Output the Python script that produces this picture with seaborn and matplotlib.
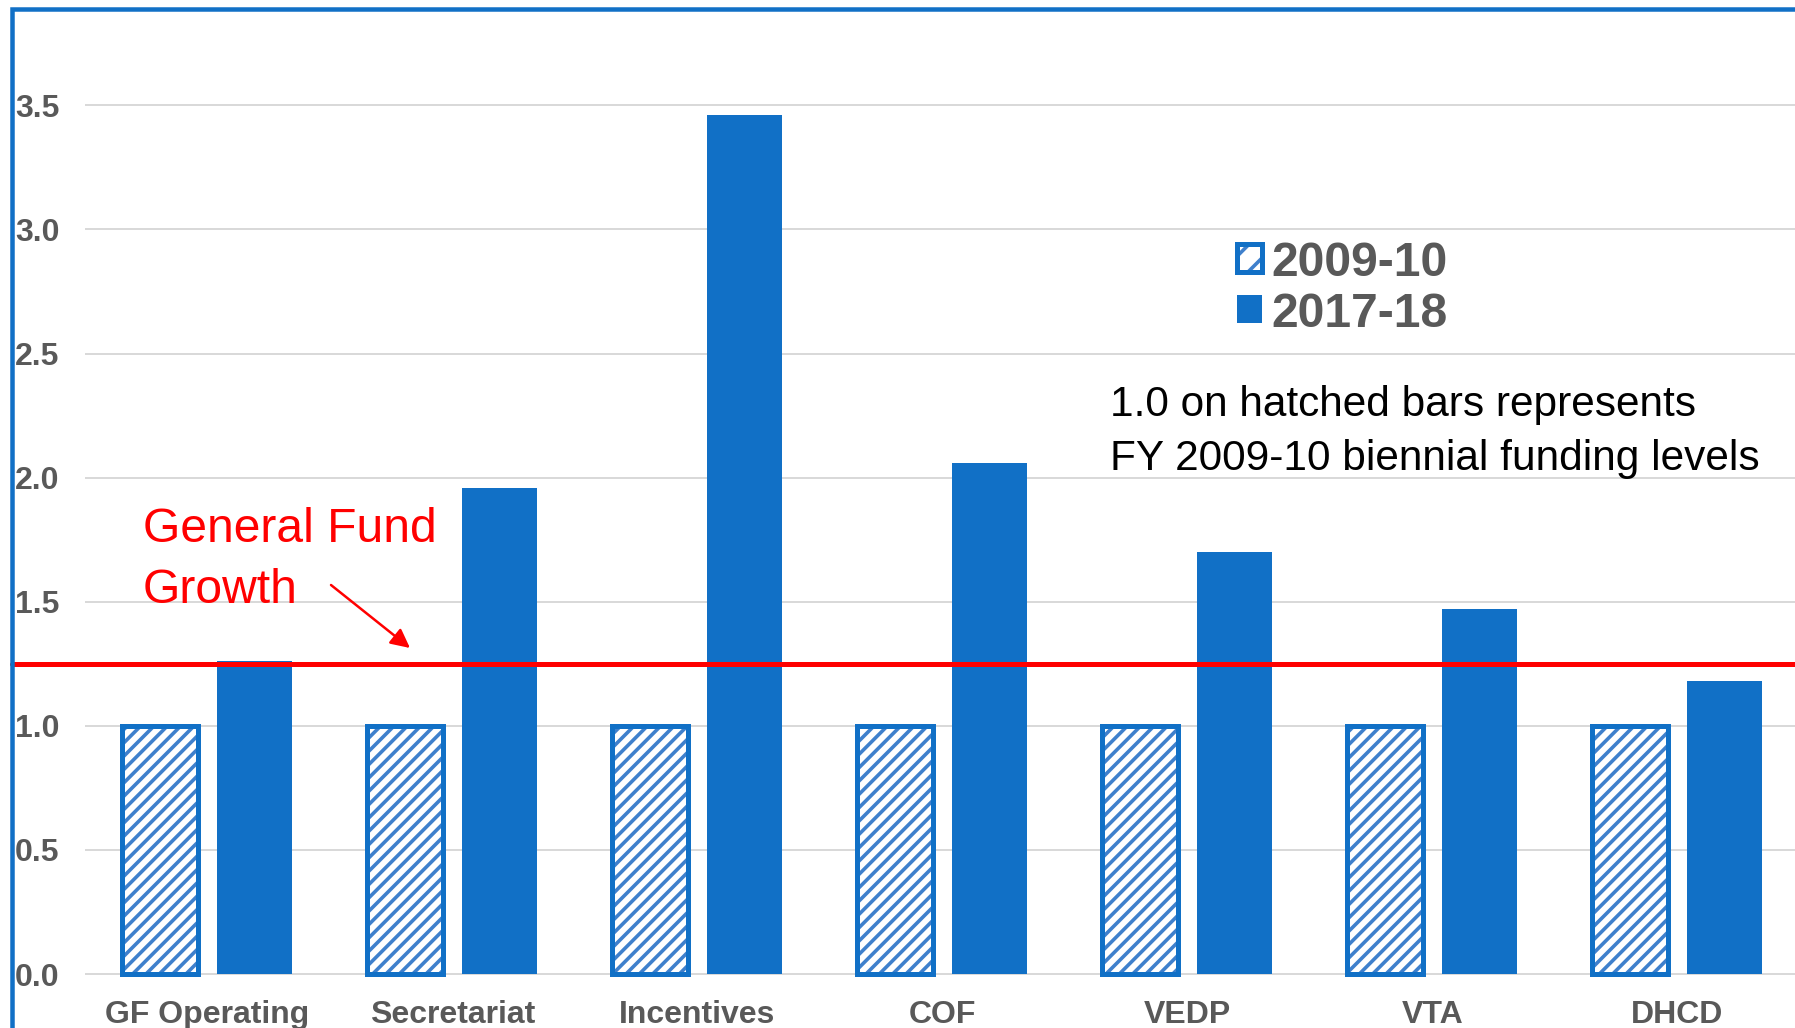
import numpy as np
import pandas as pd
import matplotlib
matplotlib.use("Agg")
import matplotlib.pyplot as plt
from matplotlib.patches import Patch, Rectangle
from matplotlib.colors import to_rgba
import seaborn as sns

# ---------------- data ----------------
categories = ["GF Operating", "Secretariat", "Incentives", "COF", "VEDP", "VTA", "DHCD"]
periods = ["2009-10", "2017-18"]
values_2009 = [1.0, 1.0, 1.0, 1.0, 1.0, 1.0, 1.0]
values_2017 = [1.26, 1.96, 3.46, 2.06, 1.70, 1.47, 1.18]
gf_growth = 1.25
y_ticks = [0.0, 0.5, 1.0, 1.5, 2.0, 2.5, 3.0, 3.5]
gf_label = "General Fund\nGrowth"
note_label = "1.0 on hatched bars represents\nFY 2009-10 biennial funding levels"

# ---------------- style ----------------
BLUE = "#1170C6"
HATCH_BLUE = "#3F80CC"
GRAY = "#595959"
RED = "#FF0000"
GRID = "#D9D9D9"

DPI = 80
W, H = 1795, 1028


def pt(p):
    return p * 72 / DPI


sns.set_style("white")
plt.rcParams["font.family"] = ["Liberation Sans", "DejaVu Sans"]
plt.rcParams["hatch.linewidth"] = pt(3.6)

df = pd.DataFrame({
    "Category": categories * 2,
    "Period": [periods[0]] * len(categories) + [periods[1]] * len(categories),
    "Value": values_2009 + values_2017,
})

fig = plt.figure(figsize=(W / DPI, H / DPI), dpi=DPI)
fig.patch.set_facecolor("white")

# layout geometry (pixels)
px_per_unit = 248.2
y_zero_px = 974
y_min = -0.1
y_max = y_zero_px / px_per_unit
ax_bottom_px = y_zero_px + (-y_min) * px_per_unit
cat_px = 245.0
cat0_px = 207.2
ax_left_px = cat0_px - 0.5 * cat_px
x_max = (W - cat0_px) / cat_px

ax = fig.add_axes([ax_left_px / W, (H - ax_bottom_px) / H,
                   (W - ax_left_px) / W, ax_bottom_px / H])

sns.barplot(data=df, x="Category", y="Value", hue="Period",
            order=categories, hue_order=periods,
            palette={periods[0]: BLUE, periods[1]: BLUE},
            saturation=1, width=0.77, gap=0.2, legend=False, ax=ax,
            errorbar=None)


def set_hatch_color(p, c):
    if hasattr(p, "set_hatchcolor"):
        p.set_hatchcolor(c)
    else:
        p._hatch_color = to_rgba(c)


for patch in ax.containers[0]:
    patch.set_facecolor("white")
    patch.set_edgecolor(BLUE)
    patch.set_linewidth(pt(5))
    patch.set_hatch("//")
    set_hatch_color(patch, HATCH_BLUE)
    patch.set_clip_on(False)
    patch.set_zorder(2)
for patch in ax.containers[1]:
    patch.set_linewidth(0)
    patch.set_zorder(2)

ax.set_xlim(-0.5, x_max)
ax.set_ylim(y_min, y_max)
ax.set_yticks(y_ticks)
ax.set_yticklabels([f"{v:.1f}" for v in y_ticks])
ax.yaxis.grid(True, color=GRID, linewidth=pt(2))
ax.xaxis.grid(False)
ax.set_axisbelow(True)
for s in ax.spines.values():
    s.set_visible(False)
ax.tick_params(axis="both", length=0, labelsize=pt(32), labelcolor=GRAY)
ax.tick_params(axis="y", pad=pt(25))
ax.tick_params(axis="x", pad=pt(1.5))
for lab in ax.get_xticklabels() + ax.get_yticklabels():
    lab.set_fontweight("bold")
ax.set_xlabel("")
ax.set_ylabel("")

# General Fund growth line
ax.axhline(gf_growth, xmin=(11.5 - ax_left_px) / (W - ax_left_px), xmax=1,
           color=RED, linewidth=pt(5), clip_on=False, zorder=5)


def px_to_data(xp, yp):
    return (xp - cat0_px) / cat_px, (y_zero_px - yp) / px_per_unit


# (anchor = baseline of the last line)
tx, ty = px_to_data(143, 603)
ax.text(tx, ty, gf_label, color=RED, fontsize=pt(48), ha="left",
        va="baseline", linespacing=1.455, zorder=6)

ax_, ay_ = px_to_data(410, 648)
sx_, sy_ = px_to_data(331, 585)
ax.annotate("", xy=(ax_, ay_), xytext=(sx_, sy_),
            arrowprops=dict(arrowstyle="-|>", color=RED, lw=pt(2.5),
                            mutation_scale=pt(40), shrinkA=0, shrinkB=0),
            zorder=6)

nx, ny = px_to_data(1110.5, 469.6)
ax.text(nx, ny, note_label, color="black", fontsize=pt(42.4), ha="left",
        va="baseline", linespacing=1.43, zorder=6)

h_hatch = Patch(facecolor="white", edgecolor=BLUE, hatch="/", linewidth=pt(5))
set_hatch_color(h_hatch, HATCH_BLUE)
handles = [h_hatch, Patch(facecolor=BLUE, edgecolor="none")]
leg = ax.legend(handles, periods, loc="upper left",
                bbox_to_anchor=(1237 / W, 1 - 240.5 / H),
                bbox_transform=fig.transFigure, frameon=False,
                prop=dict(weight="bold", size=pt(48)), labelcolor=GRAY,
                handlelength=0.52, handleheight=0.52, handletextpad=0.2,
                labelspacing=0.125, borderpad=0, borderaxespad=0)

# chart border (blue frame, cropped at right/bottom)
fig.add_artist(Rectangle((11.5 / W, -0.5), 2.0, 1.5 - 9 / H,
                         transform=fig.transFigure, fill=False,
                         edgecolor=BLUE, linewidth=pt(4.5), zorder=10))

fig.savefig("out.png", dpi=DPI, facecolor="white")
